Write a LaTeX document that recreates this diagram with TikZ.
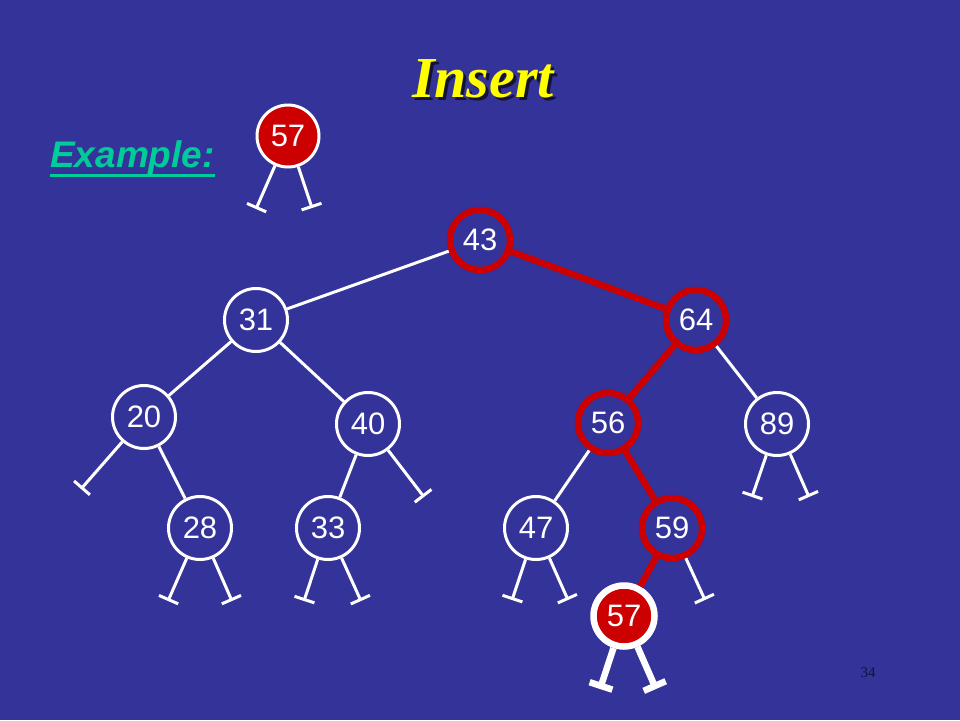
\documentclass[tikz,border=0pt]{standalone}
\usepackage{fontspec}
\setmainfont{Liberation Sans}
\newfontfamily\timesf{Liberation Serif}
\usetikzlibrary{arrows.meta}
\definecolor{bgblue}{RGB}{51,51,153}
\definecolor{rred}{RGB}{204,0,0}
\definecolor{titleyellow}{RGB}{255,255,0}
\definecolor{titleshade}{RGB}{20,20,50}
\definecolor{exteal}{RGB}{0,204,153}
\definecolor{pgnum}{RGB}{20,20,60}
\tikzset{
  wnode/.style={circle, draw=white, line width=3pt, minimum size=63pt, inner sep=0pt, text=white, font=\fontsize{31}{31}\selectfont},
  rnode/.style={circle, draw=rred, line width=6.5pt, minimum size=60pt, inner sep=0pt, text=white, font=\fontsize{31}{31}\selectfont},
  newnode/.style={circle, draw=white, fill=rred, line width=6.5pt, minimum size=61pt, inner sep=0pt, text=white, font=\fontsize{31}{31}\selectfont},
  topnode/.style={circle, draw=white, fill=rred, line width=3pt, minimum size=62pt, inner sep=0pt, text=white, font=\fontsize{31}{31}\selectfont},
  wedge/.style={draw=white, line width=3pt},
  redge/.style={draw=rred, line width=6.5pt},
  stub/.style={draw=white, line width=3pt, -{Bar[width=21pt]}},
  thickstub/.style={draw=white, line width=6.5pt, -{Bar[width=24pt]}}
}
\begin{document}
\begin{tikzpicture}[x=1pt,y=-1pt]
\fill[bgblue] (0,0) rectangle (960,720);
\useasboundingbox (0,0) rectangle (960,720);

% title with drop shadow (one node)
\node[font=\timesf\bfseries\itshape\fontsize{58}{58}\selectfont, anchor=base, inner sep=0pt] (title) at (483,97)
  {\rlap{\hspace{3pt}\raisebox{-3pt}{\textcolor{titleshade}{Insert}}}\textcolor{titleyellow}{Insert}};

% Example label
\node[text=exteal, font=\bfseries\itshape\fontsize{37}{37}\selectfont, anchor=base west, inner sep=0pt] (example) at (50,167) {Example:};
\fill[exteal] (50,173.5) rectangle (215,177);

% page number
\node[text=pgnum, font=\timesf\fontsize{15}{15}\selectfont] (page) at (868,673) {34};

% nodes
\node[topnode] (t57) at (288,136) {57};
\node[rnode] (n43) at (480,240) {43};
\node[wnode] (n31) at (256,320) {31};
\node[rnode] (n64) at (696,320) {64};
\node[wnode] (n20) at (144,417) {20};
\node[wnode] (n40) at (368,424) {40};
\node[rnode] (n56) at (608,423) {56};
\node[wnode] (n89) at (777,424) {89};
\node[wnode] (n28) at (200,528) {28};
\node[wnode] (n33) at (328,528) {33};
\node[wnode] (n47) at (536,528) {47};
\node[rnode] (n59) at (672,528) {59};
\node[newnode] (n57) at (624,616) {57};

% stub end points
\coordinate (t57l) at (256,209);
\coordinate (t57r) at (312,208);
\coordinate (s20l) at (81,489);
\coordinate (s40r) at (424,497);
\coordinate (s28l) at (168,601);
\coordinate (s28r) at (232,601);
\coordinate (s33l) at (304,601);
\coordinate (s33r) at (361,601);
\coordinate (s89l) at (752,497);
\coordinate (s89r) at (809,497);
\coordinate (s47l) at (512,600);
\coordinate (s47r) at (568,600);
\coordinate (s59r) at (705,600);
\coordinate (s57l) at (600,689);
\coordinate (s57r) at (656,689);

% edges
\draw[wedge] (n43) -- (n31);
\draw[wedge] (n31) -- (n20);
\draw[wedge] (n31) -- (n40);
\draw[wedge] (n20) -- (n28);
\draw[wedge] (n40) -- (n33);
\draw[wedge] (n64) -- (n89);
\draw[wedge] (n56) -- (n47);
\draw[redge] (n43) -- (n64);
\draw[redge] (n64) -- (n56);
\draw[redge] (n56) -- (n59);
\draw[redge] (n59) -- (n57);

% stubs
\draw[stub] (t57) -- (t57l);
\draw[stub] (t57) -- (t57r);
\draw[stub] (n20) -- (s20l);
\draw[stub] (n40) -- (s40r);
\draw[stub] (n28) -- (s28l);
\draw[stub] (n28) -- (s28r);
\draw[stub] (n33) -- (s33l);
\draw[stub] (n33) -- (s33r);
\draw[stub] (n89) -- (s89l);
\draw[stub] (n89) -- (s89r);
\draw[stub] (n47) -- (s47l);
\draw[stub] (n47) -- (s47r);
\draw[stub] (n59) -- (s59r);
\draw[thickstub] (n57) -- (s57l);
\draw[thickstub] (n57) -- (s57r);
\end{tikzpicture}
\end{document}
